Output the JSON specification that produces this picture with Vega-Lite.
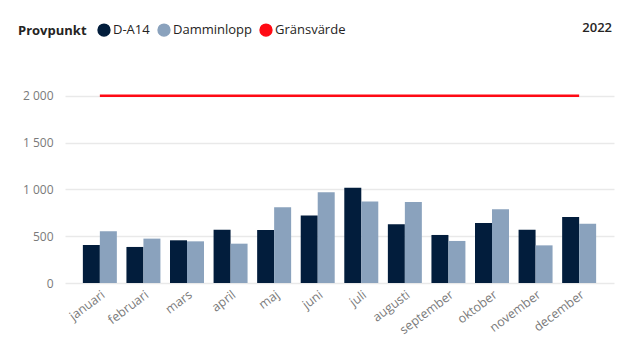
{
  "$schema": "https://vega.github.io/schema/vega-lite/v6.json",
  "width": 549,
  "height": 206,
  "autosize": {"type": "none"},
  "padding": {"left": 65, "top": 77, "right": 11, "bottom": 59},
  "background": "white",
  "config": {
    "font": "Open Sans",
    "view": {"stroke": null},
    "axis": {"labelFont": "Open Sans", "labelColor": "#7a7a7a", "labelFontSize": 12}
  },
  "title": {"text": "2022", "anchor": "end", "orient": "top", "offset": -12, "fontSize": 13, "fontWeight": 600, "color": "#252423", "font": "Open Sans", "dx": -2},
  "data": {
    "values": [
      {"month": "januari", "serie": "D-A14", "value": 406},
      {"month": "januari", "serie": "Damminlopp", "value": 552},
      {"month": "februari", "serie": "D-A14", "value": 385},
      {"month": "februari", "serie": "Damminlopp", "value": 474},
      {"month": "mars", "serie": "D-A14", "value": 456},
      {"month": "mars", "serie": "Damminlopp", "value": 445},
      {"month": "april", "serie": "D-A14", "value": 570},
      {"month": "april", "serie": "Damminlopp", "value": 420},
      {"month": "maj", "serie": "D-A14", "value": 567},
      {"month": "maj", "serie": "Damminlopp", "value": 809},
      {"month": "juni", "serie": "D-A14", "value": 720},
      {"month": "juni", "serie": "Damminlopp", "value": 969},
      {"month": "juli", "serie": "D-A14", "value": 1016},
      {"month": "juli", "serie": "Damminlopp", "value": 870},
      {"month": "augusti", "serie": "D-A14", "value": 627},
      {"month": "augusti", "serie": "Damminlopp", "value": 866},
      {"month": "september", "serie": "D-A14", "value": 513},
      {"month": "september", "serie": "Damminlopp", "value": 449},
      {"month": "oktober", "serie": "D-A14", "value": 641},
      {"month": "oktober", "serie": "Damminlopp", "value": 787},
      {"month": "november", "serie": "D-A14", "value": 570},
      {"month": "november", "serie": "Damminlopp", "value": 402},
      {"month": "december", "serie": "D-A14", "value": 706},
      {"month": "december", "serie": "Damminlopp", "value": 634},
      {"month": "januari", "serie": "Gränsvärde", "value": 2000},
      {"month": "februari", "serie": "Gränsvärde", "value": 2000},
      {"month": "mars", "serie": "Gränsvärde", "value": 2000},
      {"month": "april", "serie": "Gränsvärde", "value": 2000},
      {"month": "maj", "serie": "Gränsvärde", "value": 2000},
      {"month": "juni", "serie": "Gränsvärde", "value": 2000},
      {"month": "juli", "serie": "Gränsvärde", "value": 2000},
      {"month": "augusti", "serie": "Gränsvärde", "value": 2000},
      {"month": "september", "serie": "Gränsvärde", "value": 2000},
      {"month": "oktober", "serie": "Gränsvärde", "value": 2000},
      {"month": "november", "serie": "Gränsvärde", "value": 2000},
      {"month": "december", "serie": "Gränsvärde", "value": 2000}
    ]
  },
  "encoding": {
    "x": {
      "field": "month", "type": "nominal", "sort": null, "title": null,
      "scale": {"paddingInner": 0.22, "paddingOuter": 0.41},
      "axis": {"labelAngle": -37, "domain": false, "ticks": false, "labelPadding": 5, "labelFontSize": 12.5}
    },
    "y": {
      "field": "value", "type": "quantitative", "title": null,
      "scale": {"domain": [0, 2200], "nice": false},
      "axis": {"values": [0, 500, 1000, 1500, 2000], "domain": false, "ticks": false, "labelPadding": 12, "gridColor": "#e9e9e9", "gridWidth": 1.5,
        "labelExpr": "replace(format(datum.value, ','), ',', ' ')", "labelFontSize": 12}
    },
    "color": {
      "field": "serie", "type": "nominal", "title": "Provpunkt",
      "scale": {"domain": ["D-A14", "Damminlopp", "Gränsvärde"], "range": ["#021d3c", "#8aa2bd", "#ff0a14"]},
      "legend": {
        "orient": "none", "legendX": -47, "legendY": -54, "direction": "horizontal",
        "titleOrient": "left", "titleFontSize": 13, "titleFontWeight": "bold", "titleColor": "#252423", "titleFont": "Open Sans",
        "labelFontSize": 13, "labelColor": "#252423", "labelFont": "Open Sans",
        "symbolType": "circle", "symbolSize": 140, "columnPadding": 5, "labelOffset": 2, "titlePadding": 10,
        "encode": {"symbols": {"update": {"fill": {"scale": "color", "field": "value"}, "stroke": {"value": "transparent"}, "opacity": {"value": 1}}}}
      }
    }
  },
  "layer": [
    {
      "transform": [{"filter": "datum.serie !== 'Gränsvärde'"}],
      "mark": {"type": "bar"},
      "encoding": {"xOffset": {"field": "serie", "type": "nominal", "scale": {"domain": ["D-A14", "Damminlopp"]}}}
    },
    {
      "transform": [{"filter": "datum.serie === 'Gränsvärde'"}],
      "mark": {"type": "line", "strokeWidth": 2.5},
      "encoding": {}
    }
  ]
}
